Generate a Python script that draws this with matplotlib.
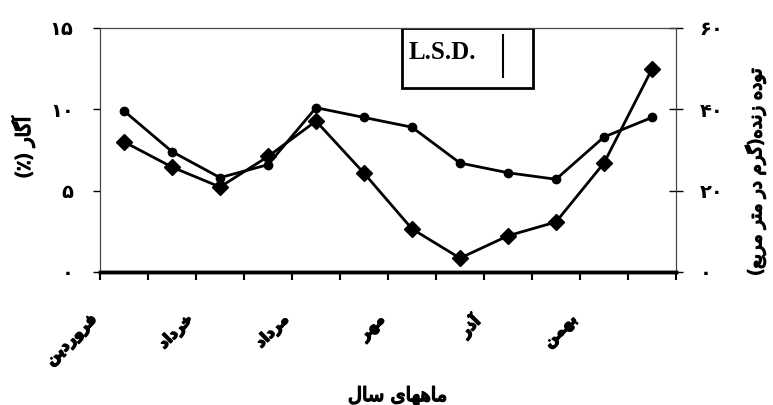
import numpy as np
import matplotlib
matplotlib.use('Agg')
import matplotlib.pyplot as plt
import matplotlib.patheffects as pe

# متن فارسی: شکل حروف و ترتیب راست به چپ دستی ساخته می شود
FORMS = {
    'ا': (0xFE8D, 0xFE8E), 'آ': (0xFE81, 0xFE82),
    'د': (0xFEA9, 0xFEAA), 'ذ': (0xFEAB, 0xFEAC),
    'ر': (0xFEAD, 0xFEAE), 'ز': (0xFEAF, 0xFEB0),
    'و': (0xFEED, 0xFEEE),
    'ب': (0xFE8F, 0xFE90, 0xFE91, 0xFE92),
    'ت': (0xFE95, 0xFE96, 0xFE97, 0xFE98),
    'خ': (0xFEA5, 0xFEA6, 0xFEA7, 0xFEA8),
    'س': (0xFEB1, 0xFEB2, 0xFEB3, 0xFEB4),
    'ع': (0xFEC9, 0xFECA, 0xFECB, 0xFECC),
    'ف': (0xFED1, 0xFED2, 0xFED3, 0xFED4),
    'ل': (0xFEDD, 0xFEDE, 0xFEDF, 0xFEE0),
    'م': (0xFEE1, 0xFEE2, 0xFEE3, 0xFEE4),
    'ن': (0xFEE5, 0xFEE6, 0xFEE7, 0xFEE8),
    'ه': (0xFEE9, 0xFEEA, 0xFEEB, 0xFEEC),
    'ی': (0xFBFC, 0xFBFD, 0xFBFE, 0xFBFF),
    'گ': (0xFB92, 0xFB93, 0xFB94, 0xFB95),
}


def fa(s):
    out = []
    for i, ch in enumerate(s):
        f = FORMS.get(ch)
        if f is None:
            out.append({'(': ')', ')': '('}.get(ch, ch))
            continue
        prev = s[i - 1] if i > 0 else ''
        nxt = s[i + 1] if i + 1 < len(s) else ''
        pj = prev in FORMS and len(FORMS[prev]) == 4
        nj = len(f) == 4 and nxt in FORMS
        if pj and nj:
            c = f[3]
        elif pj:
            c = f[1]
        elif nj:
            c = f[2]
        else:
            c = f[0]
        out.append(chr(c))
    return ''.join(reversed(out))


# داده ها
months = ['فروردین', 'اردیبهشت', 'خرداد', 'تیر', 'مرداد', 'شهریور',
          'مهر', 'آبان', 'آذر', 'دی', 'بهمن', 'اسفند']
agar = [9.9, 7.4, 5.8, 6.6, 10.1, 9.5, 8.9, 6.7, 6.1, 5.7, 8.3, 9.5]          # آگار (٪)
biomass = [32.0, 25.8, 20.9, 28.4, 37.1, 24.3, 10.6, 3.4, 8.9, 12.3, 26.8, 49.9]  # گرم در متر مربع
left_ticks = [0, 5, 10, 15]
left_labels = ['۰', '۵', '۱۰', '۱۵']
right_ticks = [0, 20, 40, 60]
right_labels = ['۰', '۲۰', '۴۰', '۶۰']

plt.rcParams['font.family'] = ['DejaVu Sans']
plt.rcParams['font.weight'] = 'bold'
bold = [pe.withStroke(linewidth=1.1, foreground='black')]

fig = plt.figure(figsize=(7.73, 4.05), dpi=100)
ax = fig.add_axes([0.1294, 0.3284, 0.7451, 0.6025])
ax2 = ax.twinx()

x = np.arange(len(months)) + 0.5
ax.plot(x, agar, color='black', lw=2, marker='o', ms=6, zorder=3)
ax2.plot(x, biomass, color='black', lw=2, marker='D', ms=8.5, zorder=3)

ax.set_xlim(0, 12)
ax.set_ylim(0, 15)
ax2.set_ylim(0, 60)

ax.set_xticks(range(13))
ax.set_xticklabels([fa(months[i]) if i % 2 == 0 and i < 12 else '' for i in range(13)],
                   rotation=45, ha='right', fontsize=11)
for t in ax.get_xticklabels():
    t.set_path_effects(bold)
ax.tick_params(axis='x', direction='out', length=6, width=1.5, pad=23)
ax.set_yticks(left_ticks)
ax.set_yticklabels(left_labels, fontsize=14)
ax.tick_params(axis='y', direction='out', length=5, width=1, pad=14)
ax2.set_yticks(right_ticks)
ax2.set_yticklabels(right_labels, fontsize=14)
ax2.tick_params(axis='y', direction='inout', length=10, width=1, pad=12)

for a in (ax, ax2):
    for side in ('top', 'left', 'right'):
        a.spines[side].set_linewidth(0.8)
        a.spines[side].set_color('#444444')
    a.spines['bottom'].set_linewidth(2.5)

ax.set_xlabel(fa('ماههای سال'), fontsize=14, path_effects=bold)
ax.xaxis.set_label_coords(0.517, -0.47)
ax.set_ylabel(fa('آگار (٪)'), fontsize=14, path_effects=bold)
ax.yaxis.set_label_coords(-0.113, 0.51)
ax2.set_ylabel(fa('توده زنده(گرم در متر مربع)'), fontsize=13, rotation=90, path_effects=bold)
ax2.yaxis.set_label_coords(1.12, 0.41)

# جعبه L.S.D.
ax.add_patch(plt.Rectangle((0.524, 0.754), 0.228, 0.246, transform=ax.transAxes,
                           fill=False, lw=2, edgecolor='black', zorder=4))
ax.text(0.535, 0.9, 'L.S.D.', transform=ax.transAxes, family='Liberation Serif',
        fontweight='bold', fontsize=18, va='center', ha='left')
ax.plot([0.699, 0.699], [0.80, 0.97], transform=ax.transAxes, color='black', lw=1.5)

fig.savefig('out.png', dpi=100)
